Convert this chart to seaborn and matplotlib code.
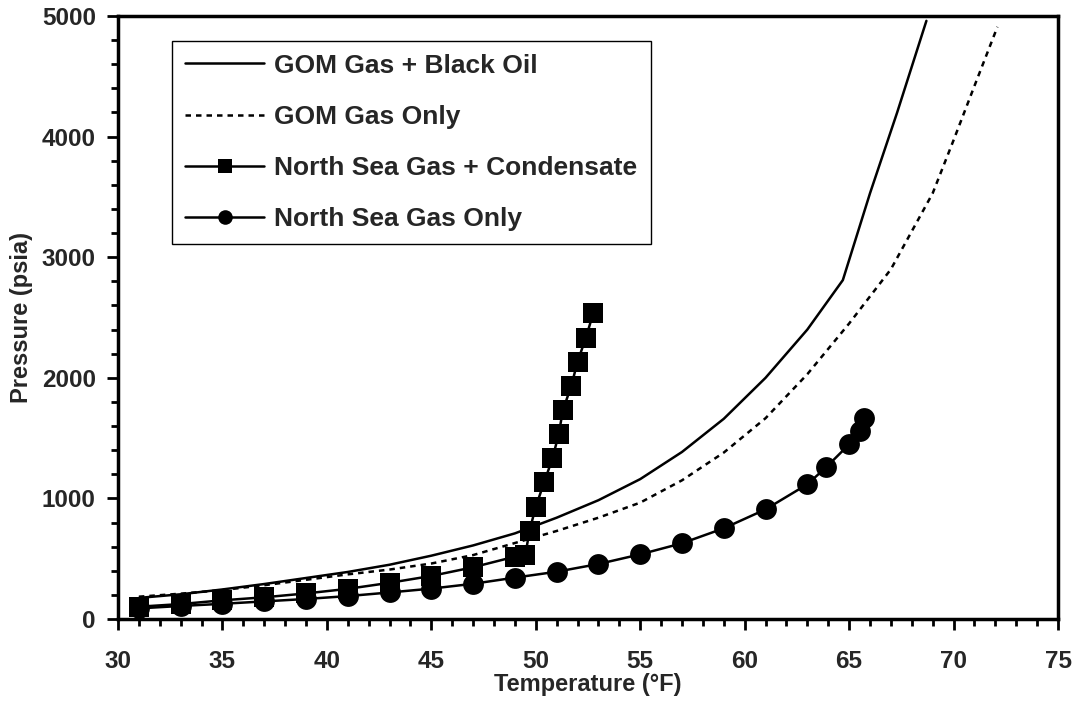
import matplotlib
matplotlib.use("Agg")
import matplotlib.pyplot as plt
from matplotlib.lines import Line2D
from matplotlib.ticker import MultipleLocator
import seaborn as sns
import pandas as pd

# ---- data ----
gom_oil_t = [31, 33, 35, 37, 39, 41, 43, 45, 47, 49, 51, 53, 55, 57, 59, 61, 63, 64.7, 66, 67.3, 68.7]
gom_oil_p = [175, 205, 245, 290, 340, 390, 450, 525, 610, 710, 840, 985, 1160, 1385, 1660, 2000, 2400, 2810, 3530, 4200, 4960]

gom_gas_t = [31, 33, 35, 37, 39, 41, 43, 45, 47, 49, 51, 53, 55, 57, 59, 61, 63, 65, 67, 69, 70, 71, 72.1]
gom_gas_p = [185, 210, 240, 280, 325, 370, 410, 460, 530, 630, 730, 840, 965, 1150, 1380, 1665, 2030, 2450, 2900, 3530, 3970, 4420, 4910]

ns_cond_t = [31, 33, 35, 37, 39, 41, 43, 45, 47, 49.0, 49.5, 49.7, 50.0, 50.4, 50.8, 51.1, 51.3, 51.7, 52.0, 52.4, 52.75]
ns_cond_p = [102, 124, 155, 180, 212, 250, 300, 357, 429, 517, 531, 732, 931, 1133, 1332, 1534, 1733, 1932, 2134, 2333, 2535]

ns_gas_t = [31, 33, 35, 37, 39, 41, 43, 45, 47, 49, 51, 53, 55, 57, 59, 61, 63, 63.9, 65, 65.5, 65.7]
ns_gas_p = [88, 108, 126, 146, 166, 190, 220, 252, 292, 343, 392, 456, 536, 628, 752, 909, 1117, 1258, 1448, 1559, 1669]

series_names = ["GOM Gas + Black Oil", "GOM Gas Only",
                "North Sea Gas + Condensate", "North Sea Gas Only"]
x_ticks = [30, 35, 40, 45, 50, 55, 60, 65, 70, 75]
y_ticks = [0, 1000, 2000, 3000, 4000, 5000]

# ---- style ----
sns.set_style("ticks")
plt.rcParams["font.family"] = ["Liberation Sans", "DejaVu Sans"]
plt.rcParams["font.weight"] = "bold"

fig = plt.figure(figsize=(10.77, 7.03), dpi=100)
ax = fig.add_axes([118 / 1077, 1 - 619 / 703, 940 / 1077, 603 / 703])

df_oil = pd.DataFrame({"T": gom_oil_t, "P": gom_oil_p})
df_gas = pd.DataFrame({"T": gom_gas_t, "P": gom_gas_p})
df_cond = pd.DataFrame({"T": ns_cond_t, "P": ns_cond_p})
df_nsg = pd.DataFrame({"T": ns_gas_t, "P": ns_gas_p})

LW = 1.8
DASH = (0, (2.2, 2.0))
sns.lineplot(data=df_oil, x="T", y="P", ax=ax, color="black", lw=LW, sort=False)
sns.lineplot(data=df_gas, x="T", y="P", ax=ax, color="black", lw=LW, sort=False,
             linestyle=DASH)
sns.lineplot(data=df_cond, x="T", y="P", ax=ax, color="black", lw=LW, sort=False,
             marker="s", markersize=14, markeredgewidth=0)
sns.lineplot(data=df_nsg, x="T", y="P", ax=ax, color="black", lw=LW, sort=False,
             marker="o", markersize=15, markeredgewidth=0)

ax.set_xlim(30, 75)
ax.set_ylim(0, 5000)
ax.set_xticks(x_ticks)
ax.set_yticks(y_ticks)
ax.xaxis.set_minor_locator(MultipleLocator(1))
ax.yaxis.set_minor_locator(MultipleLocator(200))
ax.set_xticklabels([str(v) for v in x_ticks], fontsize=17.5, fontweight="bold")
ax.set_yticklabels([str(v) for v in y_ticks], fontsize=17.5, fontweight="bold")
ax.tick_params(axis="both", which="major", direction="out", length=8, width=2, color="black")
ax.tick_params(axis="both", which="minor", direction="out", length=5, width=2, color="black")
ax.tick_params(axis="x", which="major", pad=14)
ax.tick_params(axis="y", which="major", pad=8)
for s in ax.spines.values():
    s.set_visible(True)
    s.set_linewidth(2.5)
    s.set_color("black")

ax.set_xlabel("Temperature (°F)", fontsize=17, fontweight="bold")
ax.set_ylabel("Pressure (psia)", fontsize=17, fontweight="bold")
ax.xaxis.set_label_coords(0.5, -0.089)
ax.yaxis.set_label_coords(-0.09, 0.5)

handles = [
    Line2D([], [], color="black", lw=LW),
    Line2D([], [], color="black", lw=LW, linestyle=DASH),
    Line2D([], [], color="black", lw=LW, marker="s", markersize=10, markeredgewidth=0),
    Line2D([], [], color="black", lw=LW, marker="o", markersize=10.5, markeredgewidth=0),
]
leg = ax.legend(handles, series_names, loc="upper left",
                bbox_to_anchor=((172 - 118) / 940, (619 - 40.5) / 603),
                prop={"family": "Liberation Sans", "weight": "bold", "size": 19},
                frameon=True, fancybox=False, shadow=False, framealpha=1,
                edgecolor="black", handlelength=3.0, handletextpad=0.38,
                labelspacing=1.03, borderpad=0.5, borderaxespad=0)
leg.get_frame().set_linewidth(1.0)

fig.savefig("out.png", dpi=100)
